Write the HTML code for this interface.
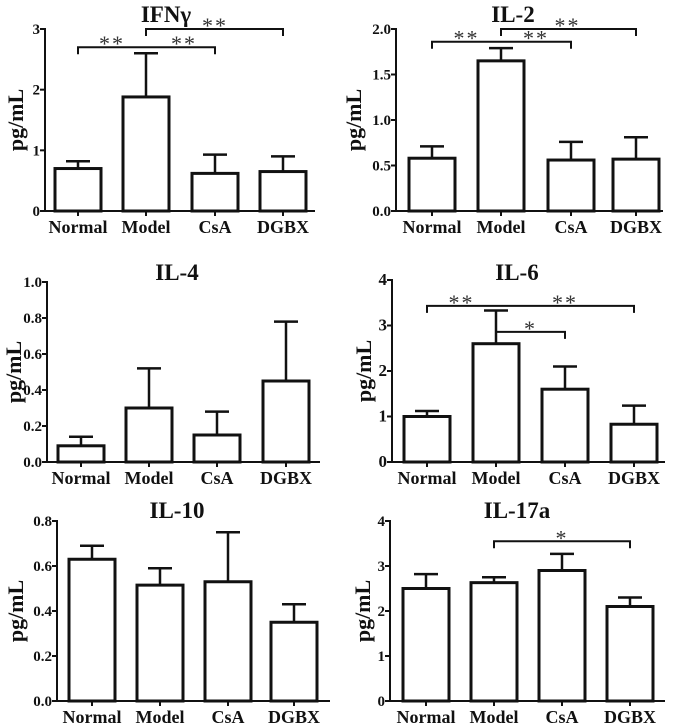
<!DOCTYPE html>
<html><head><meta charset="utf-8"><style>
html,body{margin:0;padding:0;background:#fff}
svg{display:block}
text{font-family:"Liberation Serif",serif;font-weight:bold;fill:#111}
</style></head><body>
<svg id="fig" width="675" height="726" viewBox="0 0 675 726" xmlns="http://www.w3.org/2000/svg"></svg>
<script>
const categories = ["Normal","Model","CsA","DGBX"];
const ifngMeans = [0.70,1.88,0.62,0.65];
const ifngErr = [0.82,2.60,0.93,0.90];
const il2Means = [0.58,1.65,0.56,0.57];
const il2Err = [0.71,1.79,0.76,0.81];
const il4Means = [0.09,0.30,0.15,0.45];
const il4Err = [0.14,0.52,0.28,0.78];
const il6Means = [1.00,2.60,1.60,0.83];
const il6Err = [1.12,3.33,2.10,1.24];
const il10Means = [0.63,0.515,0.53,0.35];
const il10Err = [0.69,0.59,0.75,0.43];
const il17Means = [2.50,2.63,2.90,2.10];
const il17Err = [2.82,2.75,3.27,2.30];
const ifngTicks = ["0","1","2","3"];
const il2Ticks = ["0.0","0.5","1.0","1.5","2.0"];
const il4Ticks = ["0.0","0.2","0.4","0.6","0.8","1.0"];
const il6Ticks = ["0","1","2","3","4"];
const il10Ticks = ["0.0","0.2","0.4","0.6","0.8"];
const il17Ticks = ["0","1","2","3","4"];

const NS="http://www.w3.org/2000/svg";
const svg=document.getElementById('fig');
function mk(tag,attrs,parent){const e=document.createElementNS(NS,tag);for(const k in attrs)e.setAttribute(k,attrs[k]);(parent||svg).appendChild(e);return e;}

const panels=[
 {key:"ifng",title:"IFNγ",means:ifngMeans,err:ifngErr,ticks:ifngTicks,max:3,ax:45,top:29,bot:211,xend:315,cx:[78,146,215,283],tx:166,ty:22,tickFs:15,ylx:15,
  brackets:[{a:0,b:2,y:2.7,stars:[{c:0.5,t:"**"},{c:1.55,t:"**"}]},{a:1,b:3,y:3.0,stars:[{c:2.0,t:"**"}]}]},
 {key:"il2",title:"IL-2",means:il2Means,err:il2Err,ticks:il2Ticks,max:2,ax:396,top:29,bot:211,xend:663,cx:[432,501,571,636],tx:513,ty:22,tickFs:15,ylx:353,
  brackets:[{a:0,b:2,y:1.86,stars:[{c:0.5,t:"**"},{c:1.5,t:"**"}]},{a:1,b:3,y:2.0,stars:[{c:1.95,t:"**"}]}]},
 {key:"il4",title:"IL-4",means:il4Means,err:il4Err,ticks:il4Ticks,max:1,ax:47,top:282,bot:462,xend:320,cx:[81,149,217,286],tx:177,ty:280,tickFs:15,ylx:13,brackets:[]},
 {key:"il6",title:"IL-6",means:il6Means,err:il6Err,ticks:il6Ticks,max:4,ax:392,top:280,bot:462,xend:665,cx:[427,496,565,634],tx:517,ty:280,tickFs:17,ylx:363,
  brackets:[{a:0,b:3,y:3.43,stars:[{c:0.5,t:"**"},{c:2.0,t:"**"}]},{a:1,b:2,y:2.86,stars:[{c:1.5,t:"*"}]}]},
 {key:"il10",title:"IL-10",means:il10Means,err:il10Err,ticks:il10Ticks,max:0.8,ax:57,top:521,bot:701,xend:330,cx:[92,160,228,294],tx:177,ty:518,tickFs:15,ylx:15,brackets:[]},
 {key:"il17a",title:"IL-17a",means:il17Means,err:il17Err,ticks:il17Ticks,max:4,ax:390,top:521,bot:701,xend:665,cx:[426,494,562,630],tx:517,ty:518,tickFs:15,ylx:362,
  brackets:[{a:1,b:3,y:3.55,stars:[{c:2.0,t:"*"}]}]}
];

panels.forEach(p=>{
  const g=mk('g',{});
  
  
  const y=v=>p.bot-(v/p.max)*(p.bot-p.top);
  const bw=46;
  const xAt=c=>{const i=Math.floor(c),f=c-i;return i>=3?p.cx[3]:p.cx[i]+(p.cx[i+1]-p.cx[i])*f;};
  const t=mk('text',{x:p.tx,y:p.ty,'text-anchor':'middle','font-size':23},g);t.textContent=p.title;
  
  const yl=mk('text',{x:0,y:0,'text-anchor':'middle','font-size':22,transform:`translate(${p.ylx+8},${(p.top+p.bot)/2}) rotate(-90)`},g);
  yl.textContent="pg/mL";
  
  const ya=mk('line',{x1:p.ax,y1:p.top-1,x2:p.ax,y2:p.bot,stroke:'#111','stroke-width':2},g);
  
  const xa=mk('line',{x1:p.ax,y1:p.bot,x2:p.xend,y2:p.bot,stroke:'#111','stroke-width':2},g);
  
  p.ticks.forEach((lab,i)=>{
    const v=p.max*i/(p.ticks.length-1);const yy=y(v);
    mk('line',{x1:p.ax-5,y1:yy,x2:p.ax,y2:yy,stroke:'#111','stroke-width':2},g);
    const tl=mk('text',{x:p.ax-5,y:yy+5,'text-anchor':'end','font-size':p.tickFs},g);tl.textContent=lab;
    
  });
  categories.forEach((c,i)=>{
    const x=p.cx[i];
    mk('line',{x1:x,y1:p.bot,x2:x,y2:p.bot+5,stroke:'#111','stroke-width':2},g);
    const cl=mk('text',{x:x,y:p.bot+22,'text-anchor':'middle','font-size':18},g);cl.textContent=c;
    
    const eb=mk('line',{x1:x,y1:y(p.means[i]),x2:x,y2:y(p.err[i]),stroke:'#111','stroke-width':2.5},g);
    
    mk('line',{x1:x-12,y1:y(p.err[i]),x2:x+12,y2:y(p.err[i]),stroke:'#111','stroke-width':2.5},g);
    const r=mk('rect',{x:x-bw/2,y:y(p.means[i]),width:bw,height:p.bot-y(p.means[i]),fill:'#fff',stroke:'#111','stroke-width':3},g);
    
  });
  p.brackets.forEach(b=>{
    const yy=y(b.y),x1=p.cx[b.a],x2=p.cx[b.b];
    const pl=mk('polyline',{points:`${x1},${yy+7} ${x1},${yy} ${x2},${yy} ${x2},${yy+7}`,fill:'none',stroke:'#111','stroke-width':2},g);
    
    b.stars.forEach(s=>{
      const st=mk('text',{x:xAt(s.c),y:yy+4,'text-anchor':'middle','font-size':22,'letter-spacing':2},g);
      st.style.fontWeight='normal';st.style.fill='#333';st.textContent=s.t;
      
    });
  });
});
</script>
</body></html>
